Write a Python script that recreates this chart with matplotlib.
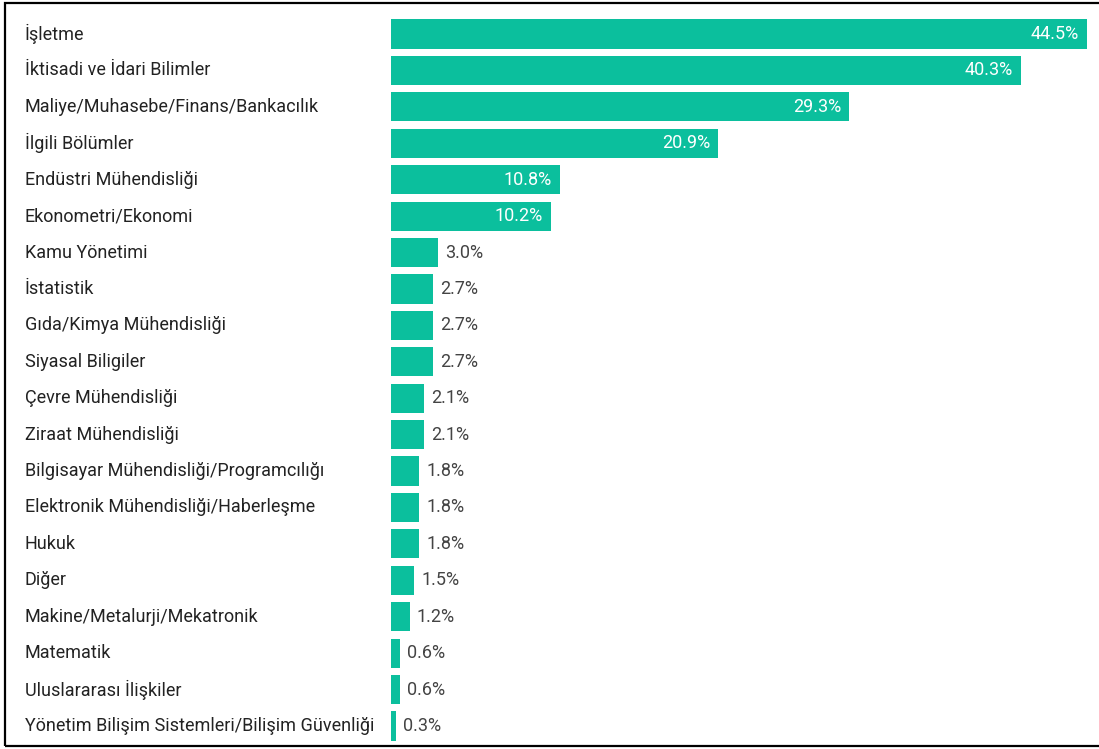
import matplotlib
matplotlib.use("Agg")
import matplotlib.pyplot as plt
from matplotlib.transforms import blended_transform_factory
from matplotlib.patches import Rectangle

plt.rcParams['font.family'] = ['Roboto', 'DejaVu Sans']

categories = [
    "İşletme", "İktisadi ve İdari Bilimler", "Maliye/Muhasebe/Finans/Bankacılık",
    "İlgili Bölümler", "Endüstri Mühendisliği", "Ekonometri/Ekonomi",
    "Kamu Yönetimi", "İstatistik", "Gıda/Kimya Mühendisliği", "Siyasal Biligiler",
    "Çevre Mühendisliği", "Ziraat Mühendisliği", "Bilgisayar Mühendisliği/Programcılığı",
    "Elektronik Mühendisliği/Haberleşme", "Hukuk", "Diğer",
    "Makine/Metalurji/Mekatronik", "Matematik", "Uluslararası İlişkiler",
    "Yönetim Bilişim Sistemleri/Bilişim Güvenliği",
]
values = [44.5, 40.3, 29.3, 20.9, 10.8, 10.2, 3.0, 2.7, 2.7, 2.7,
          2.1, 2.1, 1.8, 1.8, 1.8, 1.5, 1.2, 0.6, 0.6, 0.3]

W, H = 1099, 749
fig = plt.figure(figsize=(W / 100, H / 100), dpi=100)
ax = fig.add_axes([391 / W, 0, 696 / W, 1])
color = '#0bbf9d'
ys = list(range(len(values)))
ax.barh(ys, values, height=0.8, color=color)
ax.set_xlim(0, 44.5)
spacing = (726 - 34) / 19
ax.set_ylim((H - 34) / spacing, -34 / spacing)
ax.axis('off')

tr = blended_transform_factory(fig.transFigure, ax.transData)
for y, cat in zip(ys, categories):
    ax.text(25 / W, y, cat, transform=tr, ha='left', va='center',
            fontsize=13, color='#222222')

px = 44.5 / 696
for y, v in zip(ys, values):
    lbl = f"{v:.1f}%"
    if v >= 10:
        ax.text(v - 8 * px, y, lbl, ha='right', va='center', fontsize=13,
                color='white')
    else:
        ax.text(v + 7 * px, y, lbl, ha='left', va='center', fontsize=13,
                color='#444444')

fig.patches.append(Rectangle((5 / W, 3 / H), (W + 10) / W, (H - 6) / H,
                             transform=fig.transFigure, fill=False,
                             edgecolor='black', linewidth=1.6))
fig.savefig('out.png', dpi=100)
